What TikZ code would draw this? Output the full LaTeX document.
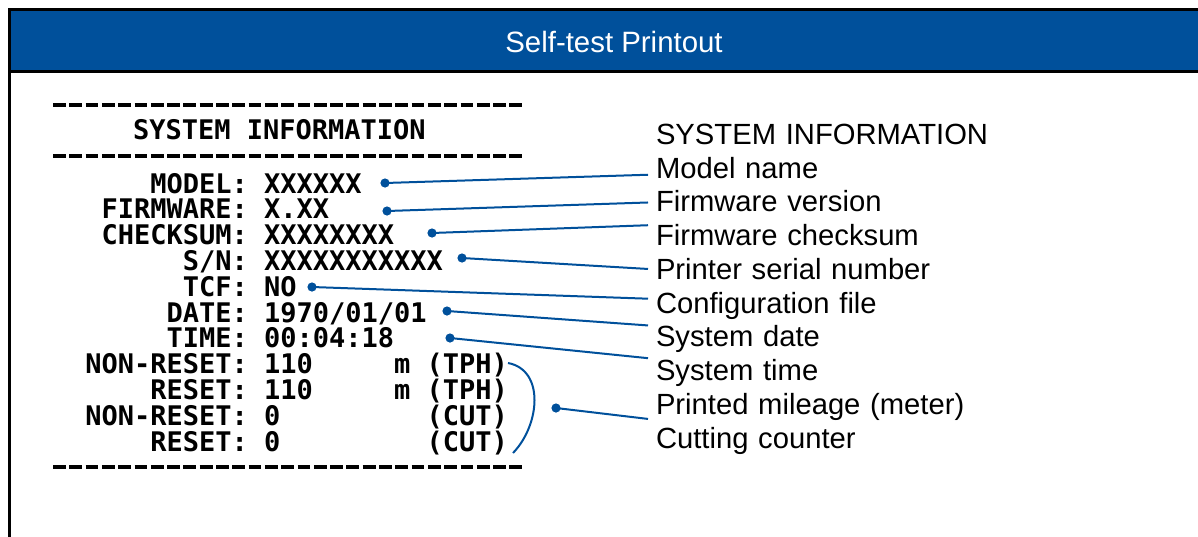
\documentclass[tikz,border=0pt]{standalone}
\usepackage{fontspec}
\setmainfont{Liberation Sans}
\setmonofont{DejaVu Sans Mono}
\usepackage{xcolor}
\usetikzlibrary{positioning, calc}
\definecolor{hdrblue}{HTML}{00509B}
\newcommand\blank[1]{\hphantom{#1}}

\begin{document}
\begin{tikzpicture}[
    x=0.5pt, y=-0.5pt,
    node distance=0pt,
    key/.style={inner sep=0pt, outer sep=0pt, text width=82pt, align=right,
                text height=9.5pt, text depth=3.4pt,
                font=\ttfamily\bfseries\fontsize{13.5}{15}\selectfont},
    val/.style={key, text width=130pt, align=left},
    lbl/.style={inner sep=0pt, outer sep=0pt, text width=170pt, align=left,
                text height=11.4pt, text depth=5.47pt,
                font=\fontsize{14.6}{17}\selectfont},
    dot/.style={circle, fill=hdrblue, inner sep=0pt, minimum size=4.6pt},
    leader/.style={draw=hdrblue, line width=1pt},
    rule/.style={line width=2pt, dash pattern=on 6.4pt off 1.75pt},
  ]
  \useasboundingbox (0,0) rectangle (1198,536);
  \clip (0,0) rectangle (1198,536);

  % Frame and header bar
  \draw[line width=1.5pt, fill=hdrblue] (9,9) rectangle (1220,71);
  \draw[line width=1.5pt] (9,71) -- (9,560);
  \node[text=white, font=\fontsize{14.7}{17}\selectfont] (title) at (614,42) {Self-test Printout};

  % Printout
  \draw[rule] (53,105) -- (524,105);
  \node[key, text width=180pt, align=left, anchor=west] (hInfo) at (133,133) {SYSTEM\blank{0}INFORMATION};
  \draw[rule] (53,156) -- (524,156);

  \node[key, anchor=east] (kModel) at (248,187) {MODEL:};
  \node[key, below=of kModel] (kFirm) {FIRMWARE:};
  \node[key, below=of kFirm] (kSum) {CHECKSUM:};
  \node[key, below=of kSum] (kSn) {S/N:};
  \node[key, below=of kSn] (kTcf) {TCF:};
  \node[key, below=of kTcf] (kDate) {DATE:};
  \node[key, below=of kDate] (kTime) {TIME:};
  \node[key, below=of kTime] (kNrTph) {NON-RESET:};
  \node[key, below=of kNrTph] (kRTph) {RESET:};
  \node[key, below=of kRTph] (kNrCut) {NON-RESET:};
  \node[key, below=of kNrCut] (kRCut) {RESET:};

  \node[val, right=8pt of kModel] (vModel) {XXXXXX};
  \node[val, right=8pt of kFirm] (vFirm) {X.XX};
  \node[val, right=8pt of kSum] (vSum) {XXXXXXXX};
  \node[val, right=8pt of kSn] (vSn) {XXXXXXXXXXX};
  \node[val, right=8pt of kTcf] (vTcf) {NO};
  \node[val, right=8pt of kDate] (vDate) {1970/01/01};
  \node[val, right=8pt of kTime] (vTime) {00:04:18};
  \node[val, right=8pt of kNrTph] (vNrTph) {110\blank{00000}m\blank{0}(TPH)};
  \node[val, right=8pt of kRTph] (vRTph) {110\blank{00000}m\blank{0}(TPH)};
  \node[val, right=8pt of kNrCut] (vNrCut) {0\blank{000000000}(CUT)};
  \node[val, right=8pt of kRCut] (vRCut) {0\blank{000000000}(CUT)};

  \draw[rule] (53,467) -- (524,467);

  % Bracket over the counters
  \draw[leader] (508,363) .. controls (545,370) and (540,425) .. (513,453);

  % Labels on the right
  \node[lbl, anchor=west] (lSys) at (656,138.5) {SYSTEM INFORMATION};
  \node[lbl, below=of lSys] (lModel) {Model name};
  \node[lbl, below=of lModel] (lFirm) {Firmware version};
  \node[lbl, below=of lFirm] (lSum) {Firmware checksum};
  \node[lbl, below=of lSum] (lSn) {Printer serial number};
  \node[lbl, below=of lSn] (lTcf) {Configuration file};
  \node[lbl, below=of lTcf] (lDate) {System date};
  \node[lbl, below=of lDate] (lTime) {System time};
  \node[lbl, below=of lTime] (lMile) {Printed mileage (meter)};
  \node[lbl, below=of lMile] (lCut) {Cutting counter};

  % Dots and leaders
  \node[dot] (dModel) at (385,183) {};
  \node[dot] (dFirm) at (387,211) {};
  \node[dot] (dSum) at (432,233) {};
  \node[dot] (dSn) at (462,258) {};
  \node[dot] (dTcf) at (312,287) {};
  \node[dot] (dDate) at (447,311) {};
  \node[dot] (dTime) at (450,338) {};
  \node[dot] (dMile) at (556,408) {};

  \draw[leader] (dModel.center) -- ($(lModel.west)+(-8,2.5)$);
  \draw[leader] (dFirm.center) -- ($(lFirm.west)+(-8,-3.5)$);
  \draw[leader] (dSum.center) -- ($(lSum.west)+(-8,-14.5)$);
  \draw[leader] (dSn.center) -- ($(lSn.west)+(-8,-4.5)$);
  \draw[leader] (dTcf.center) -- ($(lTcf.west)+(-8,-8.5)$);
  \draw[leader] (dDate.center) -- ($(lDate.west)+(-8,-15.5)$);
  \draw[leader] (dTime.center) -- ($(lTime.west)+(-8,-16.5)$);
  \draw[leader] (dMile.center) -- ($(lMile.west)+(-8,10.5)$);

\end{tikzpicture}
\end{document}
